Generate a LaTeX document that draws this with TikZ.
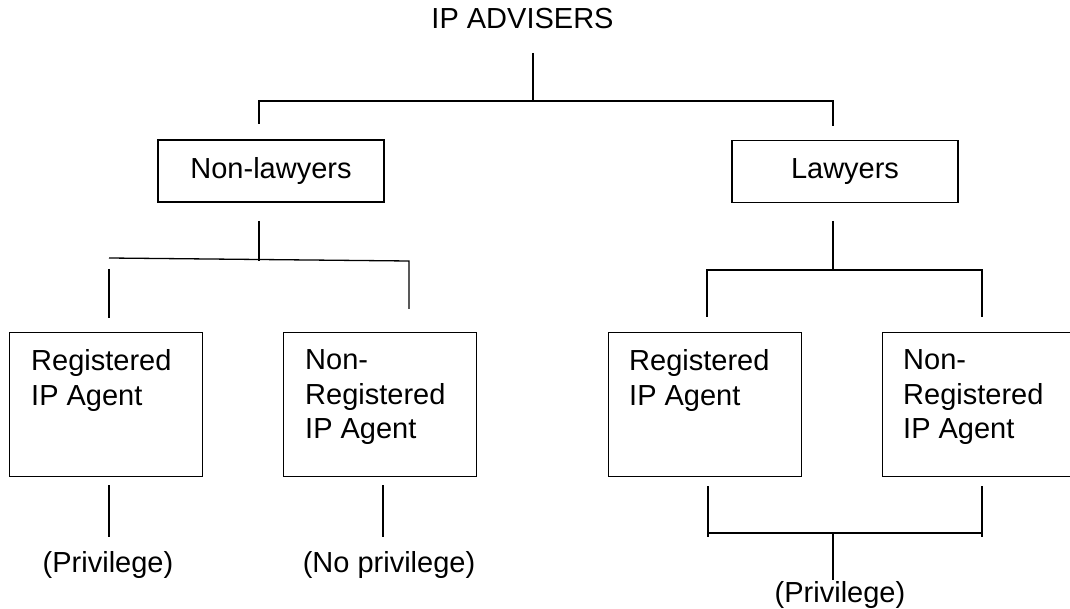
\documentclass[tikz,border=0pt]{standalone}
\usepackage{fontspec}
\setmainfont{Liberation Sans}
\begin{document}
\begin{tikzpicture}[x=1pt,y=-1pt,
  conn/.style={draw=black,line width=1.3pt},
  box/.style={draw=black,line width=1.3pt,inner sep=0pt,anchor=north west,minimum width=193pt,minimum height=144pt},
  midbox/.style={draw=black,line width=1.3pt,inner sep=0pt,minimum width=226pt,minimum height=62pt,font=\fontsize{29}{34.5}\selectfont},
  boxtext/.style={inner sep=0pt,anchor=north west,align=left,font=\fontsize{29}{34.5}\selectfont},
  lbl/.style={inner sep=0pt,anchor=base,font=\fontsize{29}{34.5}\selectfont}]
\useasboundingbox (0,0) rectangle (1070,609);
\begin{scope}
\clip (0,0) rectangle (1070,609);
% title
\node[lbl] (top) at (522.5,29) {IP ADVISERS};
% middle boxes
\node[midbox] (nl) at (271,171) {Non-lawyers};
\node[midbox] (lw) at (845,171.5) {Lawyers};
% agent boxes
\node[box] (b1) at (9,332) {};
\node[box] (b2) at (283,332) {};
\node[box] (b3) at (608,332) {};
\node[box] (b4) at (882,332) {};
\node[boxtext] (t1) at (31,349.5) {Registered\\IP Agent};
\node[boxtext] (t2) at (305,349.5) {Non-\\Registered\\IP Agent};
\node[boxtext] (t3) at (629,349.5) {Registered\\IP Agent};
\node[boxtext] (t4) at (903,349.5) {Non-\\Registered\\IP Agent};
% outcome labels
\node[lbl] (p1) at (108,572) {(Privilege)};
\node[lbl] (p2) at (389,572) {(No privilege)};
\node[lbl] (p3) at (840,602) {(Privilege)};
% coordinates for connector ends
\coordinate (a0) at (533,53);
\coordinate (a1) at (533,101);
\coordinate (aL) at (259,101);
\coordinate (aR) at (833,101);
\coordinate (aLd) at (259,124);
\coordinate (aRd) at (833,126);
\coordinate (n0) at (259,221);
\coordinate (n1) at (259,261);
\coordinate (nL) at (109,258);
\coordinate (nR) at (409,261);
\coordinate (nLt) at (109,269);
\coordinate (nLb) at (109,318);
\coordinate (nRb) at (409,309);
\coordinate (l0) at (833,221);
\coordinate (l1) at (833,270);
\coordinate (lL) at (707,270);
\coordinate (lR) at (982,270);
\coordinate (lLb) at (707,317);
\coordinate (lRb) at (982,317);
\coordinate (q1t) at (109,485);
\coordinate (q1b) at (109,537);
\coordinate (q2t) at (383,485);
\coordinate (q2b) at (383,537);
\coordinate (r1t) at (708,486);
\coordinate (r1b) at (708,537);
\coordinate (r2t) at (982,486);
\coordinate (r2b) at (982,537);
\coordinate (rL) at (708,533);
\coordinate (rR) at (982,533);
\coordinate (rM) at (833,533);
\coordinate (rMb) at (833,580);
% connectors
\draw[conn] (a0) -- (a1);
\draw[conn] (aLd) -- (aL) -- (aR) -- (aRd);
\draw[conn] (n0) -- (n1);
\draw[conn] (nL) -- (nR) -- (nRb);
\draw[conn] (nLt) -- (nLb);
\draw[conn] (l0) -- (l1);
\draw[conn] (lLb) -- (lL) -- (lR) -- (lRb);
\draw[conn] (q1t) -- (q1b);
\draw[conn] (q2t) -- (q2b);
\draw[conn] (r1t) -- (r1b);
\draw[conn] (r2t) -- (r2b);
\draw[conn] (rL) -- (rR);
\draw[conn] (rM) -- (rMb);
\end{scope}
\end{tikzpicture}
\end{document}
